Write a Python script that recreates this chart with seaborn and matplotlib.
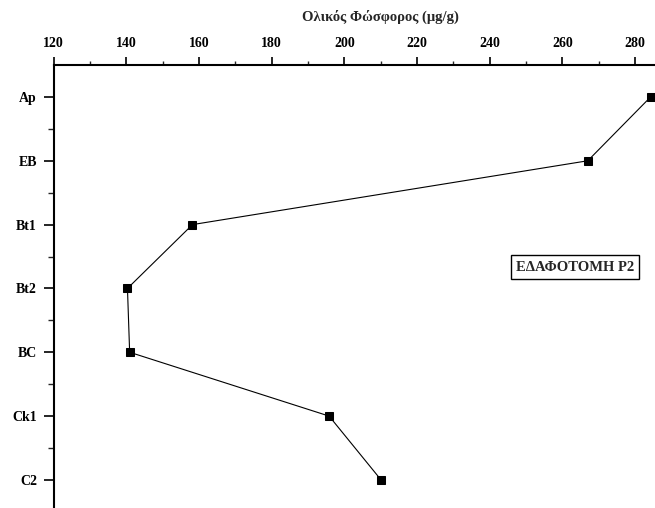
import matplotlib.pyplot as plt
import matplotlib.ticker as mticker
import seaborn as sns

horizons = ["Ap", "EB", "Bt1", "Bt2", "BC", "Ck1", "C2"]
phosphorus = [284.3, 267.0, 158.2, 140.3, 140.9, 195.8, 210.1]
depth_pos = list(range(len(horizons)))

sns.set_style("white")
plt.rcParams["font.family"] = ["Liberation Serif", "DejaVu Serif"]
plt.rcParams["font.weight"] = "bold"

fig = plt.figure(figsize=(6.55, 5.08), dpi=100)
ax = fig.add_axes([0.082, 0.0, 0.918, 0.872])

sns.lineplot(x=phosphorus, y=depth_pos, sort=False, estimator=None,
             color="black", linewidth=0.8, marker="s", markersize=6,
             markeredgecolor="black", markerfacecolor="black", ax=ax)

ax.set_xlim(120, 285.5)
ax.set_ylim(6.44, -0.5)
ax.xaxis.tick_top()
ax.xaxis.set_label_position("top")
ax.xaxis.set_major_locator(mticker.MultipleLocator(20))
ax.xaxis.set_minor_locator(mticker.MultipleLocator(10))
ax.set_yticks(depth_pos)
ax.set_yticklabels(horizons)
ax.yaxis.set_minor_locator(mticker.FixedLocator([p + 0.5 for p in depth_pos]))

for side in ["right", "bottom"]:
    ax.spines[side].set_visible(False)
for side in ["left", "top"]:
    ax.spines[side].set_linewidth(1.5)
    ax.spines[side].set_color("black")

ax.tick_params(axis="x", which="major", direction="out", length=6, width=1.2,
               labelsize=10, pad=4.5, top=True, bottom=False, colors="black")
ax.tick_params(axis="x", which="minor", direction="out", length=3, width=1,
               top=True, bottom=False)
ax.tick_params(axis="y", which="major", direction="out", length=7, width=1.2,
               labelsize=10, pad=5, left=True, colors="black")
ax.tick_params(axis="y", which="minor", direction="out", length=4, width=1,
               left=True)
for lab in ax.get_xticklabels() + ax.get_yticklabels():
    lab.set_fontweight("bold")

ax.set_xlabel("Ολικός Φώσφορος (μg/g)", fontsize=10.5, fontweight="bold", labelpad=12)
ax.xaxis.label.set_x(0.543)
ax.set_ylabel("")

ax.text(0.867, 0.544, "ΕΔΑΦΟΤΟΜΗ Ρ2", transform=ax.transAxes, ha="center", va="center",
        fontsize=10.5, fontweight="bold",
        bbox=dict(boxstyle="square,pad=0.35", facecolor="white", edgecolor="black", linewidth=1))

fig.savefig("out.png", dpi=100)
